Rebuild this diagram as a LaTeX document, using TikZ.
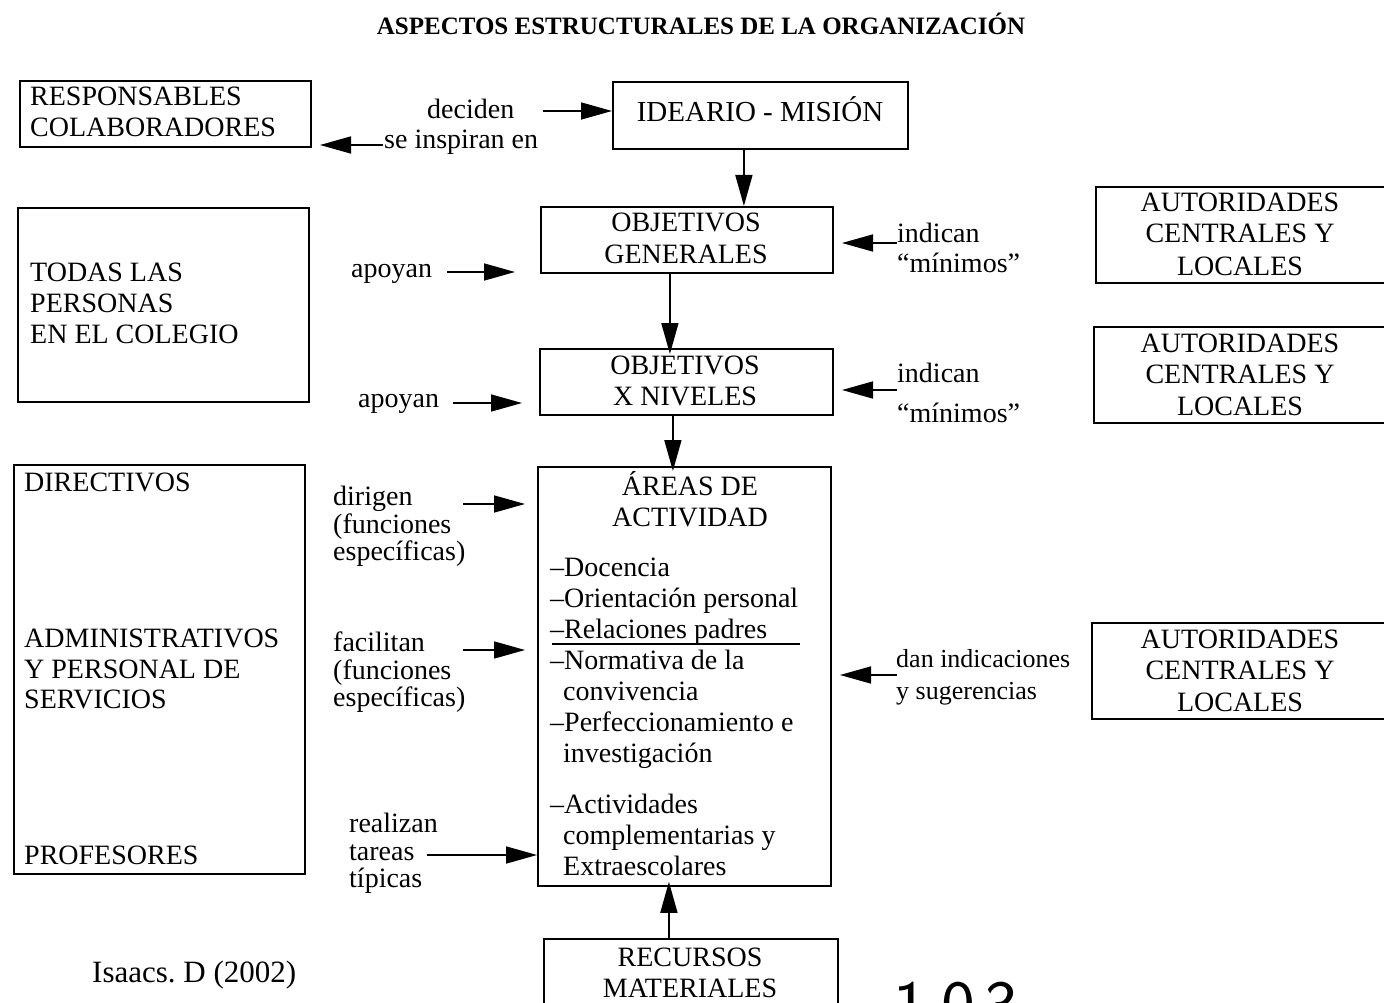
\documentclass[tikz,border=0pt]{standalone}
\usepackage{fontspec}
\setmainfont{Liberation Serif}
\usetikzlibrary{arrows.meta}
\begin{document}
\begin{tikzpicture}[x=1pt,y=-1pt,
  box/.style={draw, line width=1.8pt, inner sep=0pt, anchor=north west},
  txt/.style={anchor=base west, inner sep=0pt, font=\fontsize{28}{31}\selectfont},
  ctxt/.style={anchor=base, inner sep=0pt, font=\fontsize{28}{31}\selectfont},
  arr/.style={line width=1.6pt, -{Triangle[length=31pt,width=17pt]}}]
\fill[white] (0,0) rectangle (1384,1003);
\useasboundingbox (0,0) rectangle (1384,1003);
\clip (0,0) rectangle (1384,1003);

% title
\node[anchor=base, inner sep=0pt, font=\fontsize{25}{29}\selectfont\bfseries] (title) at (701,35) {ASPECTOS ESTRUCTURALES DE LA ORGANIZACIÓN};

% boxes
\node[box, minimum width=291pt, minimum height=66pt] (resp) at (19,80) {};
\node[box, minimum width=295pt, minimum height=67pt] (ideario) at (612,81) {};
\node[box, minimum width=292pt, minimum height=66pt] (objgen) at (540,206) {};
\node[box, minimum width=292pt, minimum height=96pt] (aut1) at (1095,186) {};
\node[box, minimum width=291pt, minimum height=194pt] (todas) at (17,207) {};
\node[box, minimum width=293pt, minimum height=66pt] (objniv) at (539,348) {};
\node[box, minimum width=294pt, minimum height=96pt] (aut2) at (1093,326) {};
\node[box, minimum width=291pt, minimum height=409pt] (pers) at (13,464) {};
\node[box, minimum width=293pt, minimum height=419pt] (areas) at (537,466) {};
\node[box, minimum width=296pt, minimum height=96pt] (aut3) at (1091,622) {};
\node[box, minimum width=294pt, minimum height=80pt] (recursos) at (543,938) {};

% box texts
\node[txt] (respA) at (30,106) {RESPONSABLES};
\node[txt] (respB) at (30,137) {COLABORADORES};
\node[ctxt, font=\fontsize{29}{31}\selectfont] (idearioT) at (760,122) {IDEARIO - MISIÓN};
\node[ctxt] (objgenA) at (686,232) {OBJETIVOS};
\node[ctxt] (objgenB) at (686,263) {GENERALES};
\foreach \n/\y in {aut1/212, aut2/352, aut3/648}{
  \node[ctxt] (\n A) at (1240,\y) {AUTORIDADES};
  \node[ctxt] (\n B) at (1240,\y+31) {CENTRALES Y};
  \node[ctxt] (\n C) at (1240,\y+63) {LOCALES};
}
\node[txt] (todasA) at (30,281) {TODAS LAS};
\node[txt] (todasB) at (30,312) {PERSONAS};
\node[txt] (todasC) at (30,343) {EN EL COLEGIO};
\node[ctxt] (objnivA) at (685,374) {OBJETIVOS};
\node[ctxt] (objnivB) at (685,405) {X NIVELES};
\node[txt] (dir) at (24,491) {DIRECTIVOS};
\node[txt] (admA) at (24,647) {ADMINISTRATIVOS};
\node[txt] (admB) at (24,678) {Y PERSONAL DE};
\node[txt] (admC) at (24,708) {SERVICIOS};
\node[txt] (prof) at (24,864) {PROFESORES};
\node[ctxt] (areasA) at (690,495) {ÁREAS DE};
\node[ctxt] (areasB) at (690,526) {ACTIVIDAD};
\node[txt] (l1) at (550,576) {–Docencia};
\node[txt] (l2) at (550,607) {–Orientación personal};
\node[txt] (l3) at (550,638) {–Relaciones padres};
\node[txt] (l4) at (550,669) {–Normativa de la};
\node[txt] (l5) at (563,700) {convivencia};
\node[txt] (l6) at (550,731) {–Perfeccionamiento e};
\node[txt] (l7) at (563,762) {investigación};
\node[txt] (l8) at (550,813) {–Actividades};
\node[txt] (l9) at (563,844) {complementarias y};
\node[txt] (l10) at (563,875) {Extraescolares};
\coordinate (ulA) at (552,644);
\coordinate (ulB) at (800,644);
\draw[line width=1.6pt] (ulA) -- (ulB);
\node[ctxt] (recA) at (690,966) {RECURSOS};
\node[ctxt] (recB) at (690,997) {MATERIALES};

% labels
\node[txt] (decT) at (427,119) {deciden};
\node[txt] (inspT) at (384,149) {se inspiran en};
\node[txt] (apo1) at (351,277) {apoyan};
\node[txt] (apo2) at (358,407) {apoyan};
\node[txt] (ind1A) at (897,242) {indican};
\node[txt] (ind1B) at (897,272) {“mínimos”};
\node[txt] (ind2A) at (897,382) {indican};
\node[txt] (ind2B) at (897,422) {“mínimos”};
\node[txt] (dirA) at (333,505) {dirigen};
\node[txt] (dirB) at (333,533) {(funciones};
\node[txt] (dirC) at (333,560) {específicas)};
\node[txt] (facA) at (333,651) {facilitan};
\node[txt] (facB) at (333,679) {(funciones};
\node[txt] (facC) at (333,706) {específicas)};
\node[txt] (reaA) at (349,832) {realizan};
\node[txt] (reaB) at (349,860) {tareas};
\node[txt] (reaC) at (349,887) {típicas};
\node[txt, font=\fontsize{26}{31}\selectfont] (danA) at (896,667) {dan indicaciones};
\node[txt, font=\fontsize{26}{31}\selectfont] (danB) at (896,699) {y sugerencias};
\node[txt, font=\fontsize{31}{34}\selectfont] (cite) at (92,982) {Isaacs.\ D (2002)};
\node[anchor=base west, inner sep=0pt, font=\fontsize{72}{80}\selectfont\sffamily] (page) at (893,1030) {1\hspace{14pt}0\hspace{10pt}3};

% connector free ends
\coordinate (decS) at (543,111);
\coordinate (inspS) at (383,145);
\coordinate (inspE) at (320,145);
\coordinate (apo1S) at (447,272);
\coordinate (apo1E) at (515,272);
\coordinate (apo2S) at (453,403);
\coordinate (apo2E) at (522,403);
\coordinate (ind1S) at (897,243);
\coordinate (ind1E) at (842,243);
\coordinate (ind2S) at (897,390);
\coordinate (ind2E) at (842,390);
\coordinate (dirS) at (463,504);
\coordinate (dirE) at (525,504);
\coordinate (facS) at (463,650);
\coordinate (facE) at (525,650);
\coordinate (reaS) at (427,855);
\coordinate (danS) at (897,675);
\coordinate (danE) at (840,675);

% connectors
\draw[arr] (decS) -- (decS -| ideario.west);
\draw[arr] (inspS) -- (inspE);
\draw[arr] ([xshift=-16.5pt]ideario.south) -- ([xshift=-16.5pt]ideario.south |- objgen.north);
\draw[arr] ([xshift=-17pt]objgen.south) -- ([xshift=-17pt,yshift=-6pt]objgen.south |- objniv.north);
\draw[arr] ([xshift=-13.5pt]objniv.south) -- ([xshift=-13.5pt,yshift=-5pt]objniv.south |- areas.north);
\draw[arr] ([xshift=-22pt]recursos.north) -- ([xshift=-22pt,yshift=5pt]recursos.north |- areas.south);
\draw[arr] (apo1S) -- (apo1E);
\draw[arr] (apo2S) -- (apo2E);
\draw[arr] (ind1S) -- (ind1E);
\draw[arr] (ind2S) -- (ind2E);
\draw[arr] (dirS) -- (dirE);
\draw[arr] (facS) -- (facE);
\draw[arr] (reaS) -- (reaS -| areas.west);
\draw[arr] (danS) -- (danE);
\end{tikzpicture}
\end{document}
